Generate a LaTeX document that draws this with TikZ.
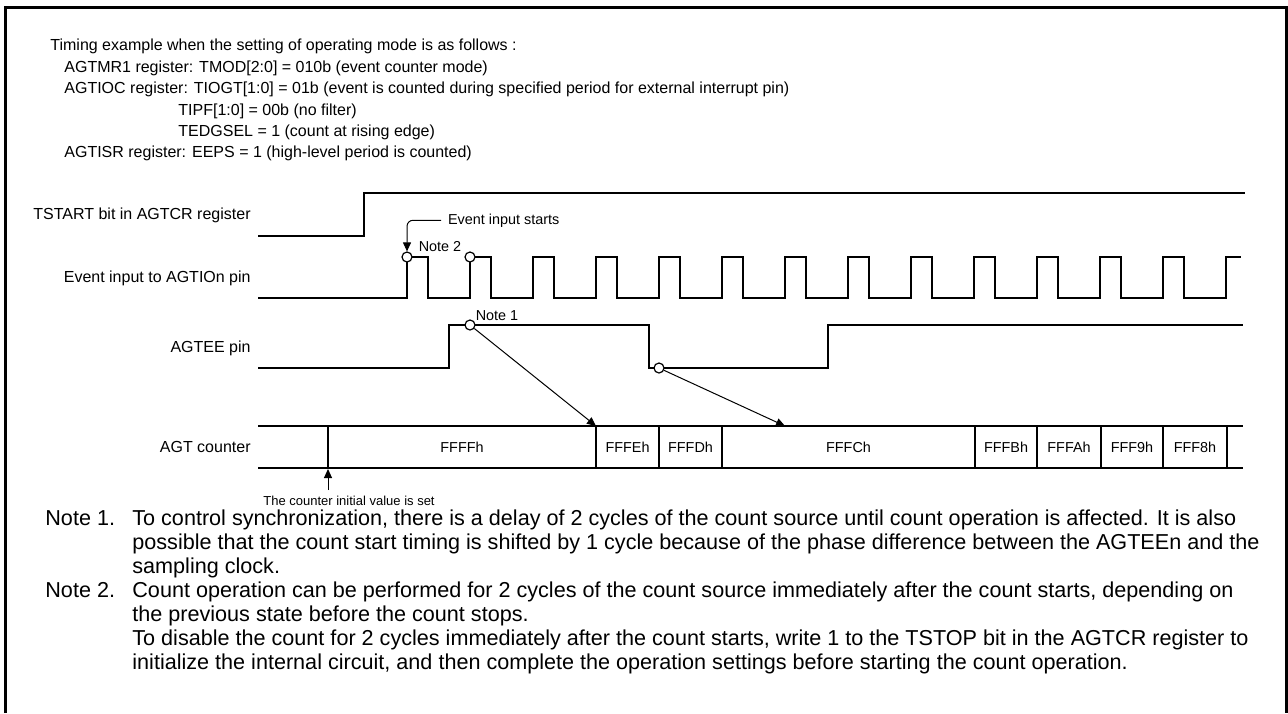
\documentclass[tikz,border=0pt]{standalone}
\usepackage{fontspec}
\setmainfont{Liberation Sans}
\usepackage{tikz}
\usetikzlibrary{arrows.meta, calc}

\begin{document}
\begin{tikzpicture}[x=0.5pt, y=-0.5pt, font=\fontsize{7.2}{9}\selectfont,
  sig/.style={line width=1pt},
  cell/.style={line width=0.6pt},
  ptr/.style={line width=0.5pt, -{Triangle[length=4.5pt, width=4pt]}},
  edgept/.style={circle, draw, line width=0.6pt, fill=white, inner sep=0pt, minimum size=5pt},
  lbl/.style={anchor=base east, inner sep=0pt, font=\fontsize{8}{10}\selectfont},
  txt/.style={anchor=base west, inner sep=0pt, font=\fontsize{8}{10}\selectfont},
  note/.style={anchor=base west, inner sep=0pt, font=\fontsize{10.8}{12}\selectfont}]
  \useasboundingbox (0,0) rectangle (1288,713);
  % Frame
  \draw[line width=1.5pt] (5,713) |- (1286,7) -- (1286,713);
  % Settings
  \node[txt] (set0) at (50,50)  {Timing example when the setting of operating mode is as follows :};
  \node[txt] (set1) at (64,72)  {AGTMR1 register: TMOD[2:0] = 010b (event counter mode)};
  \node[txt] (set2) at (64,93)  {AGTIOC register: TIOGT[1:0] = 01b (event is counted during specified period for external interrupt pin)};
  \node[txt] (set3) at (178,115) {TIPF[1:0] = 00b (no filter)};
  \node[txt] (set4) at (178,136) {TEDGSEL = 1 (count at rising edge)};
  \node[txt] (set5) at (64,157) {AGTISR register: EEPS = 1 (high-level period is counted)};
  % Signal names
  \node[lbl] (tstart) at (251,219) {TSTART bit in AGTCR register};
  \node[lbl] (evin)   at (251,282) {Event input to AGTIOn pin};
  \node[lbl] (agtee)  at (251,352) {AGTEE pin};
  \node[lbl] (agtcnt) at (251,452) {AGT counter};
  % TSTART bit
  \draw[sig] (258,236) -- (364,236) -- (364,193) -- (1245,193);
  % Event input
  \draw[sig] (258,298) foreach \k in {0,...,12} {
      -- ({407+63*\k},298) |- ({428+63*\k},257) -- ({428+63*\k},298) }
    -- (1226,298) -- (1226,257) -- (1241,257);
  % AGTEE pin
  \draw[sig] (258,368) -- (449,368) -- (449,325) -- (649,325) -- (649,368)
    -- (828,368) -- (828,325) -- (1243,325);
  % AGT counter
  \draw[sig] (258,426) -- (1243,426) (258,468) -- (1243,468);
  \foreach \x in {328,596,659,722,975,1037,1101,1163,1227}
    \draw[cell] (\x,426) -- (\x,468);
  \foreach \x/\v [count=\i] in {462/FFFFh, 627.5/FFFEh, 690.5/FFFDh, 848.5/FFFCh,
      1006/FFFBh, 1069/FFFAh, 1132/FFF9h, 1195/FFF8h}
    \node[anchor=base, inner sep=0pt] (cnt\i) at (\x,452) {\v};
  % Edges and notes
  \node[edgept] (e1) at (407,257) {};
  \node[edgept] (e2) at (470,257) {};
  \node[edgept] (g1) at (470,325) {};
  \node[edgept] (g2) at (659,368) {};
  \node[anchor=base] (n2) at (440,251) {Note 2};
  \node[anchor=base] (n1) at (497,320) {Note 1};
  \node[anchor=base west] (evlbl) at (441,224) {Event input starts};
  \draw[ptr, rounded corners=3pt] (evlbl.west) -- (e1.north |- evlbl.west) -- (e1.north);
  \coordinate (t1) at (596,426);
  \coordinate (t2) at (785,426);
  \draw[ptr] (g1) -- (t1);
  \draw[ptr] (g2) -- (t2);
  % Initial value
  \coordinate (init) at (328,469);
  \coordinate (initfoot) at (328,490);
  \draw[ptr] (initfoot) -- (init);
  \node[anchor=base, inner sep=0pt, font=\fontsize{6.5}{8}\selectfont] (initlbl) at (349,505)
    {The counter initial value is set};
  % Notes
  \node[note] (nt1) at (45,525) {Note 1.};
  \node[note] (nt1a) at (132,525) {To control synchronization, there is a delay of 2 cycles of the count source until count operation is affected. It is also};
  \node[note] (nt1b) at (132,549) {possible that the count start timing is shifted by 1 cycle because of the phase difference between the AGTEEn and the};
  \node[note] (nt1c) at (132,573) {sampling clock.};
  \node[note] (nt2) at (45,597) {Note 2.};
  \node[note] (nt2a) at (132,597) {Count operation can be performed for 2 cycles of the count source immediately after the count starts, depending on};
  \node[note] (nt2b) at (132,621) {the previous state before the count stops.};
  \node[note] (nt2c) at (132,645) {To disable the count for 2 cycles immediately after the count starts, write 1 to the TSTOP bit in the AGTCR register to};
  \node[note] (nt2d) at (132,669) {initialize the internal circuit, and then complete the operation settings before starting the count operation.};
\end{tikzpicture}
\end{document}
